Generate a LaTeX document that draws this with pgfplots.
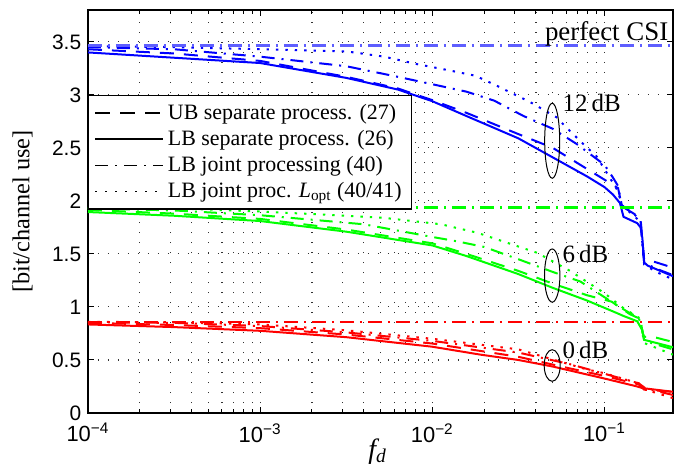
\documentclass[border=0pt]{standalone}
\usepackage{fontspec}
\setmainfont{Liberation Serif}
\setsansfont{Liberation Sans}
\usepackage{pgfplots}
\pgfplotsset{compat=1.18}

\definecolor{csiblue}{RGB}{95,95,255}
\tikzset{
  sol/.style={line width=1bp, solid},
  dsh/.style={line width=1bp, dash pattern=on 7bp off 5bp},
  ddt/.style={line width=1bp, dash pattern=on 6.5bp off 3.5bp on 1bp off 3.5bp},
  dtt/.style={line width=1bp, dash pattern=on 1.2bp off 3.5bp},
  perfline/.style={line width=1.1bp, dash pattern=on 7bp off 3bp on 1bp off 3bp},
}

\begin{document}
\begin{tikzpicture}
\useasboundingbox (-44bp,-30bp) rectangle (296.5bp,206.5bp);
\begin{axis}[
    at={(0,0)}, anchor=south west,
    width=292.5bp, height=201.5bp, scale only axis,
    xmode=log, xmin=1e-4, xmax=0.25,
    ymin=0, ymax=3.8,
    xtick={1e-4,1e-3,1e-2,1e-1},
    xticklabels={10\textsuperscript{−4},10\textsuperscript{−3},10\textsuperscript{−2},10\textsuperscript{−1}},
    ytick={0,0.5,1,1.5,2,2.5,3,3.5},
    /pgf/number format/assume math mode=true,
    xticklabel style={font=\sffamily\fontsize{11}{12}\selectfont, inner sep=0pt, yshift=-5bp},
    yticklabel style={font=\sffamily\fontsize{10.5}{12}\selectfont, inner sep=0pt, xshift=-3.2bp},
    tick align=inside,
    major tick length=3bp, minor tick length=1.8bp,
    axis line style={line width=0.8bp},
    every tick/.style={black, line width=0.5bp},
    xmajorgrids=true, xminorgrids=true, ymajorgrids=true,
    major grid style={black!80, line width=0.55bp, dash pattern=on 0.6bp off 4.4bp},
    minor grid style={black!80, line width=0.55bp, dash pattern=on 0.6bp off 4.4bp},
    xlabel={\itshape f\textsubscript{d}},
    xlabel style={at={(axis description cs:0.495,-0.062)}, anchor=north, inner sep=0pt, font=\fontsize{14}{16}\selectfont},
    ylabel={[bit/channel use]},
    ylabel style={at={(axis description cs:-0.112,0.5)}, anchor=center, inner sep=0pt, font=\fontsize{12.2}{14}\selectfont},
    legend style={at={(0,0.78947)}, anchor=north west, draw=black, line width=0.6bp, fill=white,
      font=\fontsize{11}{12.5}\selectfont, inner xsep=3bp, inner ysep=2.2bp, row sep=0pt,
      cells={anchor=west}},
    legend image code/.code={\draw[#1, line width=0.7bp] (0bp,0bp) -- (34bp,0bp);},
]

\addlegendimage{black, dash pattern=on 7.5bp off 5bp}
\addlegendimage{black, solid}
\addlegendimage{black, dash pattern=on 6.5bp off 3.5bp on 1bp off 3.5bp}
\addlegendimage{black, dash pattern=on 1bp off 4bp}

% 12 dB
\addplot[sol, blue, forget plot] coordinates {
(0.0001,3.40)(0.000316,3.35)(0.001,3.30)(0.00316,3.16)(0.00631,3.05)(0.01,2.94)(0.0158,2.80)(0.0316,2.59)(0.0501,2.41)(0.0794,2.23)(0.1,2.13)(0.112,2.06)(0.123,1.98)(0.129,1.85)(0.155,1.79)(0.162,1.75)(0.166,1.65)(0.170,1.42)(0.178,1.39)(0.25,1.29)};
\addplot[dsh, blue, forget plot] coordinates {
(0.0001,3.43)(0.000316,3.39)(0.001,3.32)(0.00316,3.17)(0.00631,3.06)(0.01,2.95)(0.0158,2.83)(0.0316,2.63)(0.0501,2.50)(0.0794,2.30)(0.1,2.20)(0.112,2.15)(0.120,2.12)(0.126,1.95)(0.155,1.86)(0.162,1.84)(0.166,1.62)(0.170,1.45)(0.200,1.42)(0.25,1.37)};
\addplot[ddt, blue, forget plot] coordinates {
(0.0001,3.45)(0.000316,3.43)(0.001,3.36)(0.00316,3.27)(0.00631,3.17)(0.01,3.10)(0.0158,3.03)(0.0229,2.945)(0.0339,2.80)(0.0501,2.68)(0.0692,2.535)(0.1,2.34)(0.112,2.22)(0.120,2.14)(0.126,1.96)(0.155,1.85)(0.162,1.82)(0.166,1.60)(0.170,1.42)(0.200,1.36)(0.25,1.30)};
\addplot[dtt, blue, forget plot] coordinates {
(0.0001,3.46)(0.000316,3.45)(0.001,3.43)(0.00316,3.41)(0.00525,3.36)(0.00813,3.29)(0.0126,3.23)(0.0178,3.18)(0.0234,3.09)(0.0295,3.01)(0.0372,2.93)(0.0525,2.79)(0.0603,2.69)(0.0794,2.50)(0.0891,2.43)(0.1,2.30)(0.112,2.17)(0.120,2.09)(0.126,1.96)(0.155,1.83)(0.162,1.80)(0.166,1.58)(0.170,1.40)(0.200,1.33)(0.25,1.26)};

% 6 dB
\addplot[sol, green, forget plot] coordinates {
(0.0001,1.895)(0.000316,1.86)(0.001,1.81)(0.00316,1.71)(0.01,1.58)(0.0158,1.48)(0.0316,1.31)(0.0501,1.18)(0.0794,1.06)(0.117,0.945)(0.129,0.915)(0.155,0.865)(0.166,0.78)(0.170,0.69)(0.25,0.62)};
\addplot[dsh, green, forget plot] coordinates {
(0.0001,1.915)(0.000316,1.88)(0.001,1.83)(0.00316,1.73)(0.01,1.60)(0.0158,1.50)(0.0316,1.34)(0.0501,1.22)(0.0794,1.11)(0.110,1.05)(0.141,0.93)(0.155,0.90)(0.162,0.90)(0.166,0.76)(0.170,0.72)(0.200,0.71)(0.25,0.67)};
\addplot[ddt, green, forget plot] coordinates {
(0.0001,1.93)(0.000316,1.91)(0.001,1.865)(0.00398,1.78)(0.01,1.66)(0.0138,1.62)(0.02,1.566)(0.0316,1.45)(0.0501,1.33)(0.0724,1.24)(0.117,1.02)(0.141,0.94)(0.158,0.90)(0.166,0.78)(0.170,0.68)(0.25,0.60)};
\addplot[dtt, green, forget plot] coordinates {
(0.0001,1.935)(0.000316,1.93)(0.001,1.90)(0.00316,1.86)(0.00525,1.84)(0.0112,1.78)(0.0182,1.70)(0.0316,1.57)(0.0407,1.51)(0.0631,1.34)(0.1,1.13)(0.126,1.00)(0.158,0.90)(0.166,0.76)(0.170,0.66)(0.25,0.55)};

% 0 dB
\addplot[sol, red, forget plot] coordinates {
(0.0001,0.835)(0.000316,0.81)(0.001,0.775)(0.00316,0.715)(0.01,0.625)(0.0191,0.55)(0.0316,0.50)(0.0501,0.438)(0.1,0.325)(0.155,0.25)(0.166,0.235)(0.25,0.20)};
\addplot[dsh, red, forget plot] coordinates {
(0.0001,0.85)(0.000316,0.83)(0.001,0.80)(0.00316,0.74)(0.01,0.655)(0.0316,0.53)(0.0631,0.42)(0.1,0.35)(0.158,0.27)(0.170,0.22)(0.25,0.20)};
\addplot[ddt, red, forget plot] coordinates {
(0.0001,0.855)(0.000316,0.85)(0.001,0.82)(0.00316,0.76)(0.01,0.68)(0.0316,0.57)(0.0631,0.46)(0.1,0.37)(0.158,0.28)(0.174,0.23)(0.25,0.17)};
\addplot[dtt, red, forget plot] coordinates {
(0.0001,0.86)(0.000316,0.855)(0.001,0.835)(0.00316,0.78)(0.01,0.70)(0.0316,0.60)(0.0794,0.41)(0.1,0.375)(0.158,0.28)(0.174,0.22)(0.25,0.14)};

% perfect CSI
\addplot[perfline, draw=csiblue, forget plot] coordinates {(0.0001,3.465) (0.25,3.465)};
\addplot[perfline, draw=green, forget plot] coordinates {(0.0001,1.937) (0.25,1.937)};
\addplot[perfline, draw=red, forget plot] coordinates {(0.0001,0.858) (0.25,0.858)};

\legend{UB separate process. (27), LB separate process. (26), LB joint processing (40), LB joint proc. \textit{L}\textsubscript{opt} (40/41)}

% annotations
\node[anchor=base east, inner sep=0pt, font=\fontsize{13.5}{15}\selectfont] at (axis cs:0.236,3.513) {perfect CSI};
\node[anchor=base west, inner sep=0pt, font=\fontsize{12.5}{14}\selectfont] at (axis cs:0.0568,2.841) {12\,dB};
\node[anchor=base west, inner sep=0pt, font=\fontsize{12.5}{14}\selectfont] at (axis cs:0.0568,1.416) {6\,dB};
\node[anchor=base west, inner sep=0pt, font=\fontsize{12.5}{14}\selectfont] at (axis cs:0.0568,0.517) {0\,dB};
\draw[line width=0.5bp] (axis cs:0.0497,2.567) ellipse [x radius=3.75bp, y radius=18.75bp];
\draw[line width=0.5bp] (axis cs:0.0497,1.296) ellipse [x radius=3.85bp, y radius=13.3bp];
\draw[line width=0.5bp] (axis cs:0.0497,0.448) ellipse [x radius=4bp, y radius=7.9bp];

\end{axis}
\end{tikzpicture}
\end{document}
